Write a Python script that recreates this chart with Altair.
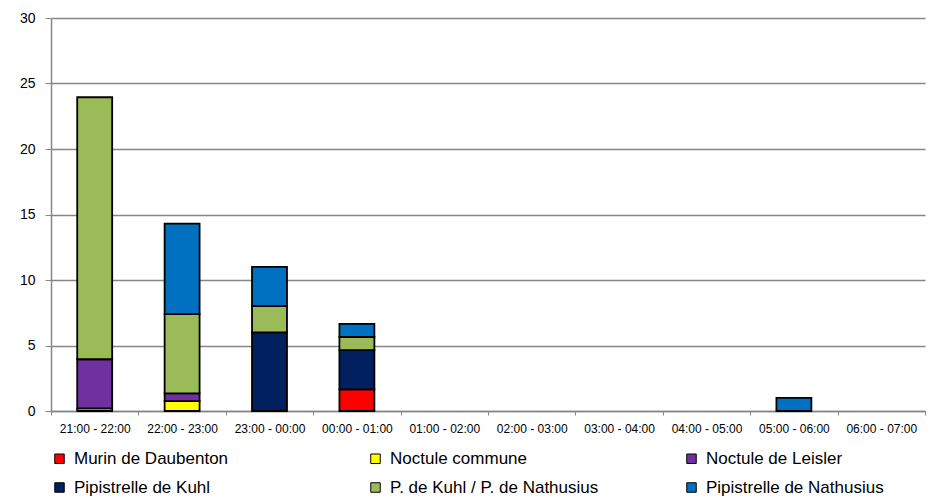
import altair as alt
import pandas as pd

hours = ["21:00 - 22:00", "22:00 - 23:00", "23:00 - 00:00", "00:00 - 01:00",
         "01:00 - 02:00", "02:00 - 03:00", "03:00 - 04:00", "04:00 - 05:00",
         "05:00 - 06:00", "06:00 - 07:00"]

species = ["Murin de Daubenton", "Noctule commune", "Noctule de Leisler",
           "Pipistrelle de Kuhl", "P. de Kuhl / P. de Nathusius",
           "Pipistrelle de Nathusius"]
colors = ["#FF0000", "#FFFF00", "#7030A0", "#002060", "#9BBB59", "#0070C0"]

murin_daubenton = [0, 0, 0, 1.65, 0, 0, 0, 0, 0, 0]
noctule_commune = [0.2, 0.75, 0, 0, 0, 0, 0, 0, 0, 0]
noctule_leisler = [3.75, 0.6, 0, 0, 0, 0, 0, 0, 0, 0]
pip_kuhl = [0, 0, 6, 3, 0, 0, 0, 0, 0, 0]
pip_kuhl_nathusius = [20, 6.05, 2, 1, 0, 0, 0, 0, 0, 0]
pip_nathusius = [0, 6.9, 3, 1, 0, 0, 0, 0, 1, 0]

series = [murin_daubenton, noctule_commune, noctule_leisler,
          pip_kuhl, pip_kuhl_nathusius, pip_nathusius]

rows = []
for k, (name, vals) in enumerate(zip(species, series)):
    for h, v in zip(hours, vals):
        rows.append({"hour": h, "species": name, "value": v, "order": k})
df = pd.DataFrame(rows)

GRAY = "#868686"
FONT = "Liberation Sans"

chart = alt.Chart(df).transform_filter("datum.value > 0").mark_bar(
    stroke="black", strokeWidth=1.8, width=alt.RelativeBandSize(0.4)
).encode(
    x=alt.X("hour:N", sort=hours,
            scale=alt.Scale(domain=hours, paddingInner=0, paddingOuter=0),
            axis=alt.Axis(title=None, labelAngle=0, tickBand="extent",
                          grid=False, tickSize=4, labelPadding=8,
                          labelFontSize=12, labelFont=FONT, labelColor="black",
                          domainColor=GRAY, tickColor=GRAY, domainWidth=1.5)),
    y=alt.Y("value:Q", stack="zero",
            scale=alt.Scale(domain=[0, 30], nice=False),
            axis=alt.Axis(title=None, values=[0, 5, 10, 15, 20, 25, 30],
                          grid=True, gridColor=GRAY, gridWidth=1.5,
                          tickSize=6, labelPadding=10, labelFontSize=14,
                          labelFont=FONT, labelColor="black",
                          domainColor=GRAY, tickColor=GRAY, domainWidth=1.5)),
    color=alt.Color("species:N",
                    scale=alt.Scale(domain=species, range=colors),
                    legend=alt.Legend(title=None, orient="none", legendX=0, legendY=432,
                                      direction="horizontal",
                                      columns=3, gridAlign="all", columnPadding=84,
                                      rowPadding=11, symbolType="square",
                                      symbolSize=90, symbolStrokeColor="black",
                                      symbolStrokeWidth=1, symbolOpacity=1,
                                      labelFontSize=17, labelFont=FONT,
                                      labelColor="black", labelLimit=400,
                                      labelOffset=6, padding=0)),
    order=alt.Order("order:Q", sort="ascending"),
).properties(
    width=874, height=393,
    padding={"left": 43, "top": 10, "right": 5, "bottom": 86},
    autosize=alt.AutoSizeParams(type="none"),
).configure_view(stroke=None)

chart.save("out.html", embed_options={"renderer": "svg", "actions": False})
